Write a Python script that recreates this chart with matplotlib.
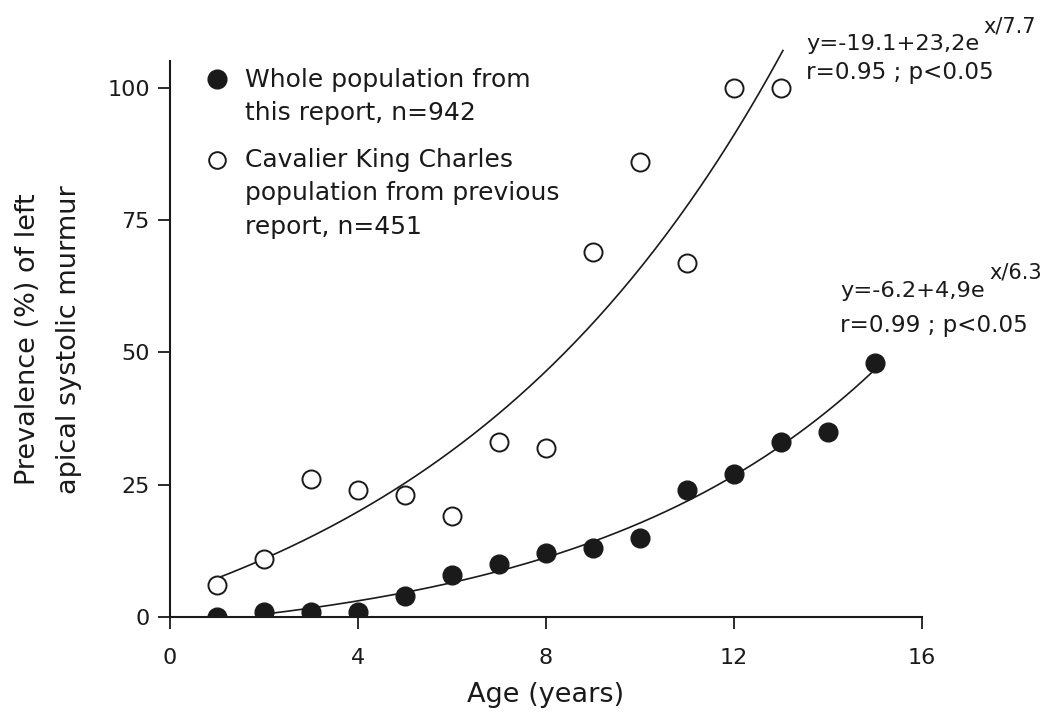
import numpy as np
import matplotlib
matplotlib.use("Agg")
import matplotlib.pyplot as plt
from matplotlib.lines import Line2D
from matplotlib.path import Path

plt.rcParams['font.family'] = ['DejaVu Sans']

# Data (age in years, prevalence %)
age_whole = [1, 2, 3, 4, 5, 6, 7, 8, 9, 10, 11, 12, 13, 14, 15]
prev_whole = [0, 0.9, 1, 1, 4, 8, 10, 12, 13, 15, 24, 27, 33, 35, 48]

age_ckcs = [1, 2, 3, 4, 5, 6, 7, 8, 9, 10, 11, 12, 13]
prev_ckcs = [6, 11, 26, 24, 23, 19, 33, 32, 69, 86, 67, 100, 100]

# Fitted exponential models y = a + b*exp(x/c) (as printed on the chart)
fit_whole = (-6.2, 4.9, 6.3)
fit_ckcs = (-19.1, 23.2, 7.7)
fit_whole_range = (2, 15)
fit_ckcs_range = (1, 13.04)

xticks = [0, 4, 8, 12, 16]
yticks = [0, 25, 50, 75, 100]

legend_labels = ["Whole population from\nthis report, n=942",
                 "Cavalier King Charles\npopulation from previous\nreport, n=451"]
eq_main = ["y=-19.1+23,2e", "y=-6.2+4,9e"]
eq_sup = ["x/7.7", "x/6.3"]
eq_stats = ["r=0.95 ; p<0.05", "r=0.99 ; p<0.05"]

ink = '#1a1a1a'

fig = plt.figure(figsize=(10.49, 7.18), dpi=100)
ax = fig.add_axes([0.162, 0.1407, 0.717, 0.7737])

def model(p, x):
    a, b, c = p
    return a + b * np.exp(x / c)

xw = np.linspace(*fit_whole_range, 200)
xc = np.linspace(*fit_ckcs_range, 200)
ax.plot(xw, model(fit_whole, xw), color=ink, lw=1.2, clip_on=False, zorder=2)
ax.plot(xc, model(fit_ckcs, xc), color=ink, lw=1.2, clip_on=False, zorder=2)

ax.scatter(age_ckcs, prev_ckcs, s=13**2, facecolor='white', edgecolor=ink,
           linewidth=1.4, clip_on=False, zorder=3)
sc = ax.scatter(age_whole, prev_whole, s=13.5**2, facecolor=ink, edgecolor=ink,
                linewidth=1, zorder=4)
# clip filled markers at the x-axis (points at 0% appear as half discs)
clip = Path([[-0.5, 0.0], [1.5, 0.0], [1.5, 2.0], [-0.5, 2.0], [-0.5, 0.0]],
            closed=True)
sc.set_clip_path(clip, ax.transAxes)

ax.set_xlim(0, 16)
ax.set_ylim(0, 105)
ax.set_xticks(xticks)
ax.set_yticks(yticks)
for s in ['top', 'right']:
    ax.spines[s].set_visible(False)
for s in ['left', 'bottom']:
    ax.spines[s].set_linewidth(1.5)
    ax.spines[s].set_color(ink)
    ax.spines[s].set_zorder(5)
ax.tick_params(axis='both', direction='out', length=8.5, width=1.3, colors=ink,
               labelsize=16)
ax.tick_params(axis='x', pad=14)
ax.tick_params(axis='y', pad=6)

ax.set_xlabel("Age (years)", fontsize=19.5, color=ink, labelpad=10)
ax.set_ylabel("Prevalence (%) of left\napical systolic murmur", fontsize=19.5,
              color=ink, labelpad=18, linespacing=1.75)

# Legend (manual)
leg_x = 0.0625
ax.add_line(Line2D([leg_x], [0.968], transform=ax.transAxes, marker='o', ms=13.5,
                   mfc=ink, mec=ink, ls='none', clip_on=False))
ax.add_line(Line2D([leg_x], [0.822], transform=ax.transAxes, marker='o', ms=12,
                   mfc='white', mec=ink, mew=1.4, ls='none', clip_on=False))
ax.text(0.1, 0.988, legend_labels[0], transform=ax.transAxes, fontsize=18,
        va='top', ha='left', color=ink, linespacing=1.45)
ax.text(0.1, 0.845, legend_labels[1], transform=ax.transAxes, fontsize=18,
        va='top', ha='left', color=ink, linespacing=1.5)

# Equations
eq_pos = [(806, 50, 79), (840, 297, 332)]
fig.canvas.draw()
renderer = fig.canvas.get_renderer()
for (px, by1, by2), m, sup, st in zip(eq_pos, eq_main, eq_sup, eq_stats):
    t = fig.text(px / 1049, 1 - by1 / 718, m, fontsize=16.2, color=ink,
                 ha='left', va='baseline')
    bb = t.get_window_extent(renderer)
    fig.text(bb.x1 / 1049 + 0.004, 1 - (by1 - 18) / 718, sup, fontsize=15,
             color=ink, ha='left', va='baseline')
    fig.text(px / 1049, 1 - by2 / 718, st, fontsize=16.6,
             color=ink, ha='left', va='baseline')

fig.savefig("out.png", dpi=100)
